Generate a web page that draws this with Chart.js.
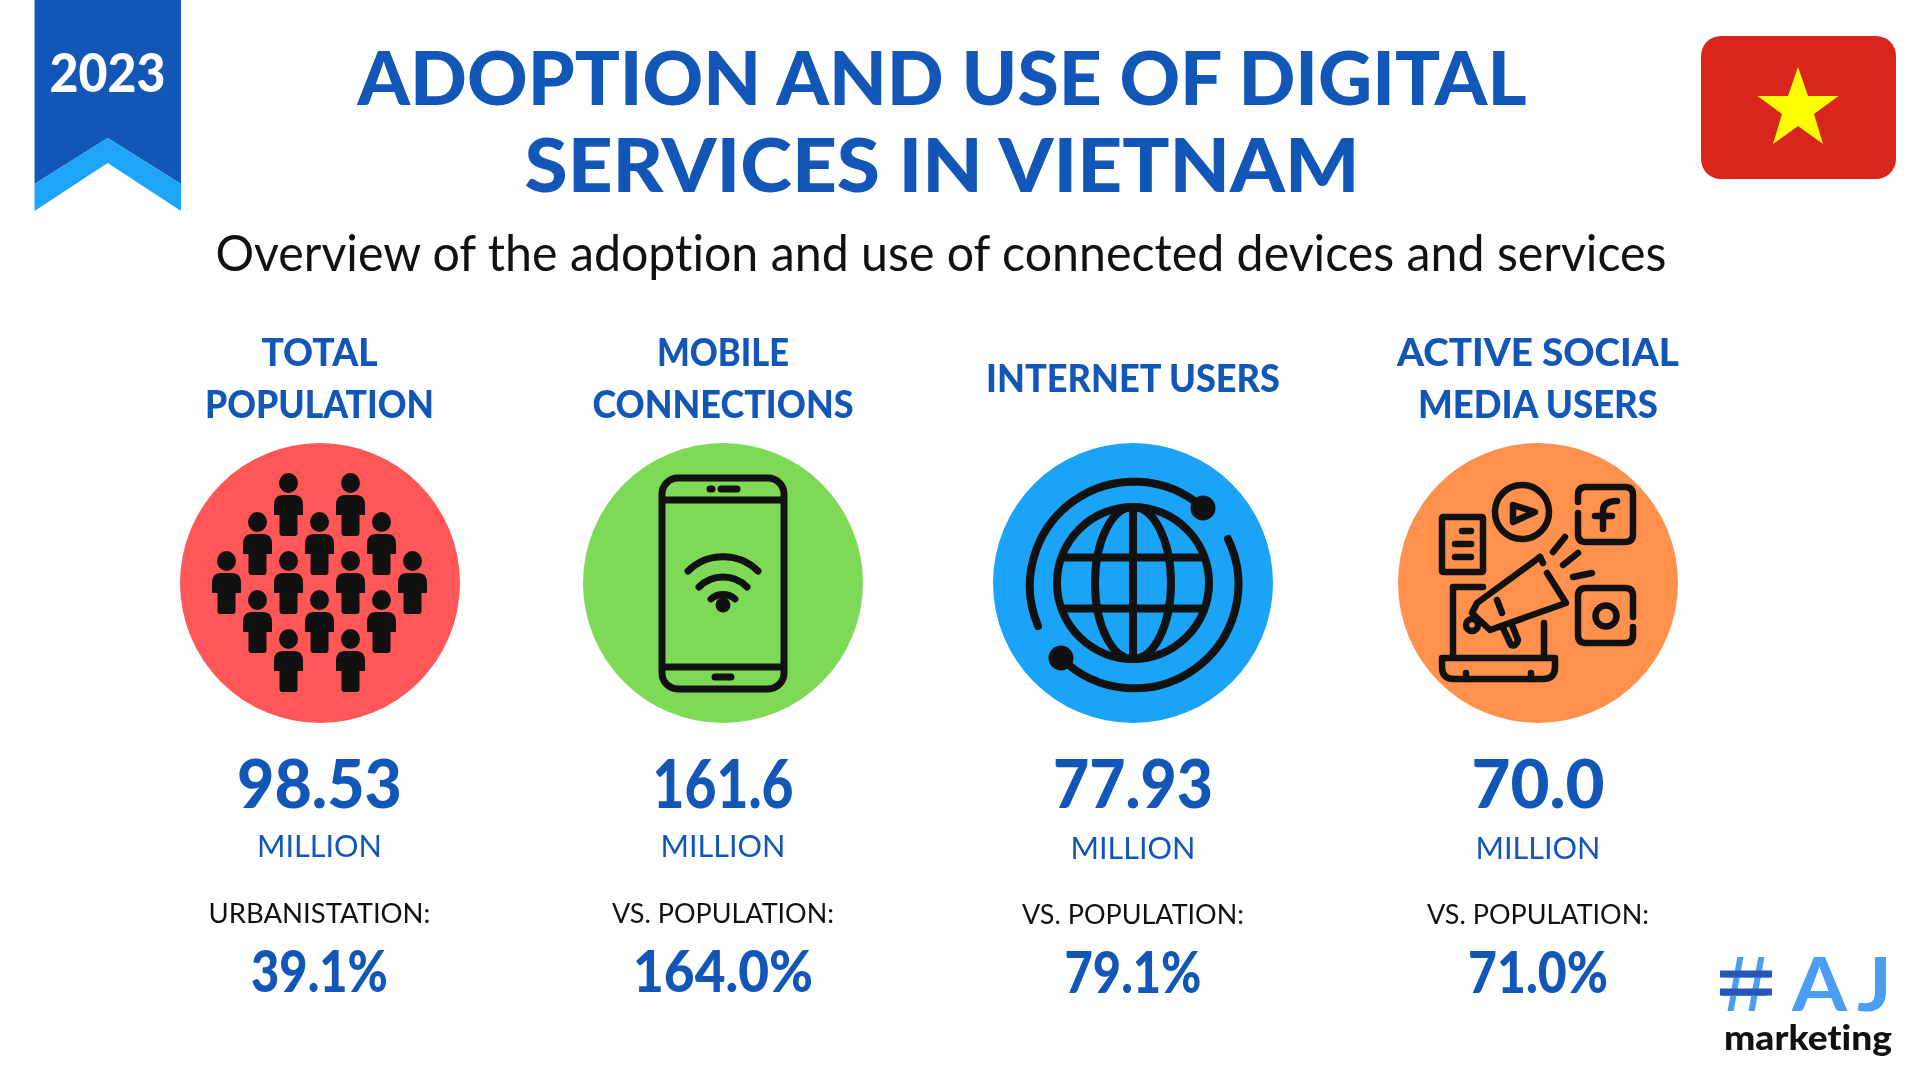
<!DOCTYPE html>
<html>
<head>
<meta charset="utf-8">
<title>Adoption and use of digital services in Vietnam</title>
<script src="https://cdn.jsdelivr.net/npm/chart.js@4"></script>
<style>
  html, body { margin: 0; padding: 0; background: #fff; }
  #page { position: relative; width: 1920px; height: 1080px; overflow: hidden; background: #fff; }
  #page canvas { position: absolute; }
  #overlay { position: absolute; left: 0; top: 0; }
  text { font-family: Lato, sans-serif; text-anchor: middle; font-variant-ligatures: none; }
</style>
</head>
<body>
<div id="page">
  <svg id="overlay" width="1920" height="1080" viewBox="0 0 1920 1080">
    <!-- ribbon -->
    <polygon points="34.5,0 181,0 181,184 107.7,138 34.5,184" fill="#1257B8"/>
    <polygon points="34.5,184 107.7,138 181,184 181,211 107.7,163 34.5,211" fill="#1FA5F8"/>
    <!-- flag -->
    <rect x="1701" y="36" width="195" height="143" rx="20" fill="#DA251D"/>
    <polygon points="1798,67 1808,96 1838.5,96 1814,114 1823,144 1798,126 1773,144 1782,114 1757.5,96 1788,96" fill="#FFFF00"/>

    <g id="peopleIcon" fill="#111"></g>

    <!-- phone -->
    <g transform="translate(723,583)" fill="none" stroke="#111" stroke-width="7">
      <rect x="-61" y="-105" width="122" height="211" rx="16"/>
      <line x1="-61" y1="-83" x2="61" y2="-83"/>
      <line x1="-61" y1="84" x2="61" y2="84"/>
      <g stroke-linecap="round" stroke-width="7">
        <line x1="-13" y1="-94" x2="-11" y2="-94"/>
        <line x1="-2" y1="-94" x2="14" y2="-94"/>
        <line x1="-8" y1="94" x2="8" y2="94"/>
        <path d="M-35 -12 A50 50 0 0 1 35 -12"/>
        <path d="M-24 4 A34 34 0 0 1 24 4"/>
        <path d="M-12 16 A18 18 0 0 1 12 16"/>
      </g>
      <circle cx="0" cy="22" r="7.5" fill="#111" stroke="none"/>
    </g>

    <!-- globe -->
    <g transform="translate(1133,583)" fill="none" stroke="#111" stroke-width="8">
      <circle cx="0" cy="0" r="76"/>
      <ellipse cx="0" cy="0" rx="38" ry="76"/>
      <line x1="0" y1="-76" x2="0" y2="76"/>
      <line x1="-70" y1="-25.5" x2="70" y2="-25.5"/>
      <line x1="-70" y1="25.5" x2="70" y2="25.5"/>
      <g stroke-linecap="round">
        <path d="M70 -75 A104 104 0 0 0 -95 43"/>
        <path d="M-72 75 A104 104 0 0 0 95 -44"/>
      </g>
      <circle cx="70" cy="-75" r="12.5" fill="#111" stroke="none"/>
      <circle cx="-72" cy="75" r="12.5" fill="#111" stroke="none"/>
    </g>

    <!-- social media -->
    <g transform="translate(1538,583)" fill="none" stroke="#111" stroke-width="6.5" stroke-linecap="round" stroke-linejoin="round">
      <rect x="-96" y="-66" width="41" height="55" rx="1"/>
      <line x1="-76" y1="-52" x2="-67" y2="-52"/>
      <line x1="-83" y1="-39" x2="-67" y2="-39"/>
      <line x1="-83" y1="-26" x2="-67" y2="-26"/>
      <circle cx="-16" cy="-71" r="27"/>
      <path d="M-25 -78 L-3 -71 L-25 -61 Z"/>
      <path d="M40 -70 L40 -49 Q40 -41 48 -41 L87 -41 Q95 -41 95 -49 L95 -88 Q95 -96 87 -96 L48 -96 Q40 -96 40 -88 L40 -81"/>
      <path d="M65 -54 L65 -72 Q65 -82 79 -82 M57 -67 L74 -67"/>
      <path d="M95 44 L95 52 Q95 60 87 60 L48 60 Q40 60 40 52 L40 13 Q40 5 48 5 L87 5 Q95 5 95 13 L95 34"/>
      <circle cx="68" cy="33" r="10.5"/>
      <path d="M-55 4 L-85 4 L-85 74 M6 40 L6 74"/>
      <path d="M-94 75 L17 75 L17 84 Q17 96 5 96 L-84 96 Q-96 96 -96 84 L-96 75 Z"/>
      <path d="M-72 90 L-72 96 M-7 90 L-7 96"/>
      <path d="M2 -26 L-61 20 L-66 30 L-48 47 L28 20 L9 -10"/>
      <line x1="2" y1="-26" x2="5" y2="-20"/>
      <line x1="-41" y1="17" x2="-36" y2="30"/>
      <circle cx="-66" cy="42" r="6"/>
      <path d="M-35 45 L-27 62 Q-22 64 -20 57 L-26 42"/>
      <line x1="15" y1="-31" x2="27" y2="-46"/>
      <line x1="25" y1="-18" x2="40" y2="-30"/>
      <line x1="35" y1="-6" x2="54" y2="-10"/>
    </g>

    <g id="texts"></g>
    <!-- the two dark crossbars of the logo hash -->
    <rect x="1720" y="970.5" width="52" height="7" fill="#2457B8"/>
    <rect x="1720" y="988.5" width="52" height="7" fill="#2457B8"/>
  </svg>
</div>

<script>
// chart content
const categories = [["TOTAL", "POPULATION"], ["MOBILE", "CONNECTIONS"], ["INTERNET USERS"], ["ACTIVE SOCIAL", "MEDIA USERS"]];
const values = [98.53, 161.6, 77.93, 70.0];
const valueLabels = ["98.53", "161.6", "77.93", "70.0"];
const units = ["MILLION", "MILLION", "MILLION", "MILLION"];
const shareLabels = ["URBANISTATION:", "VS. POPULATION:", "VS. POPULATION:", "VS. POPULATION:"];
const shares = ["39.1%", "164.0%", "79.1%", "71.0%"];

// layout
const circleColors = ["#FF5757", "#7ED957", "#1AA3F7", "#FF914D"];
const columnX = [319.5, 723, 1133, 1538];
const lowerNudge = [0, 0, 2, 2];
const labelWidths = [[116, 229], [132, 261], [294], [282, 240]];
const valueWidths = [165, 141, 160, 133];
const shareWidths = [137, 180, 137, 140];
const BLUE = "#1257B8";

const textLayer = document.getElementById("texts");
function addText(str, x, y, size, weight, fill, width) {
  const t = document.createElementNS("http://www.w3.org/2000/svg", "text");
  t.textContent = str;
  t.setAttribute("x", x);
  t.setAttribute("y", y);
  t.setAttribute("font-size", size);
  t.setAttribute("font-weight", weight);
  t.setAttribute("fill", fill);
  if (width) {
    t.setAttribute("textLength", width);
    t.setAttribute("lengthAdjust", "spacingAndGlyphs");
  }
  textLayer.appendChild(t);
  return t;
}

addText("2023", 107.5, 92, 54, 900, "#fff", 116);
addText("ADOPTION AND USE OF DIGITAL", 942, 105, 75, 900, BLUE, 1169);
addText("SERVICES IN VIETNAM", 942, 192, 75, 900, BLUE, 835);
addText("Overview of the adoption and use of connected devices and services", 941, 271, 50, 400, "#111", 1451);

categories.forEach((lines, i) => {
  const baselines = lines.length === 2 ? [366, 418] : [392];
  lines.forEach((line, j) => addText(line, columnX[i], baselines[j], 37, 900, BLUE, labelWidths[i][j]));
  addText(valueLabels[i], columnX[i], 808, 66, 900, BLUE, valueWidths[i]);
  addText(units[i], columnX[i], 857 + lowerNudge[i], 31, 400, BLUE, 125);
  addText(shareLabels[i], columnX[i], 923 + lowerNudge[i] / 2, 27, 400, "#111", 222);
  addText(shares[i], columnX[i], 992 + lowerNudge[i] / 2, 58, 900, BLUE, shareWidths[i]);
});

// logo
addText("#", 1746, 1011, 74, 400, "#4A9DF0", 52).style.fontFamily = "Inter, sans-serif";
addText("A", 1819.5, 1011, 74, 700, "#4A9DF0", 55);
addText("J", 1874.5, 1011, 74, 700, "#4A9DF0", 35);
addText("marketing", 1808, 1050, 34, 900, "#111", 168);

// people icon, one figure per seat
const peopleRows = [[483, [-31, 31]], [522, [-62, 0, 62]], [561, [-93, -31, 31, 93]], [600, [-62, 0, 62]], [639, [-31, 31]]];
const peopleIcon = document.getElementById("peopleIcon");
peopleRows.forEach(([y, xs]) => xs.forEach(dx => {
  const g = document.createElementNS("http://www.w3.org/2000/svg", "g");
  g.setAttribute("transform", `translate(${columnX[0] + dx},${y})`);
  g.innerHTML = '<ellipse cx="0" cy="0" rx="9.5" ry="10"/>' +
    '<path d="M-14.5 32 L-14.5 22 Q-14.5 12 -6 12 L6 12 Q14.5 12 14.5 22 L14.5 32 L9 32 L9 50 Q9 53 6 53 L-6 53 Q-9 53 -9 50 L-9 32 Z"/>';
  peopleIcon.appendChild(g);
}));

// one single-slice pie per column, the coloured discs
const page = document.getElementById("page");
const overlay = document.getElementById("overlay");
values.forEach((v, i) => {
  const cv = document.createElement("canvas");
  cv.width = 280;
  cv.height = 280;
  cv.style.left = (columnX[i] - 140) + "px";
  cv.style.top = (583 - 140) + "px";
  page.insertBefore(cv, overlay);
  new Chart(cv, {
    type: "pie",
    data: {
      labels: [categories[i].join(" ")],
      datasets: [{ data: [v], backgroundColor: circleColors[i], borderWidth: 0 }]
    },
    options: {
      responsive: false,
      animation: false,
      layout: { padding: 0 },
      plugins: { legend: { display: false }, tooltip: { enabled: false } }
    }
  });
});
</script>
</body>
</html>
